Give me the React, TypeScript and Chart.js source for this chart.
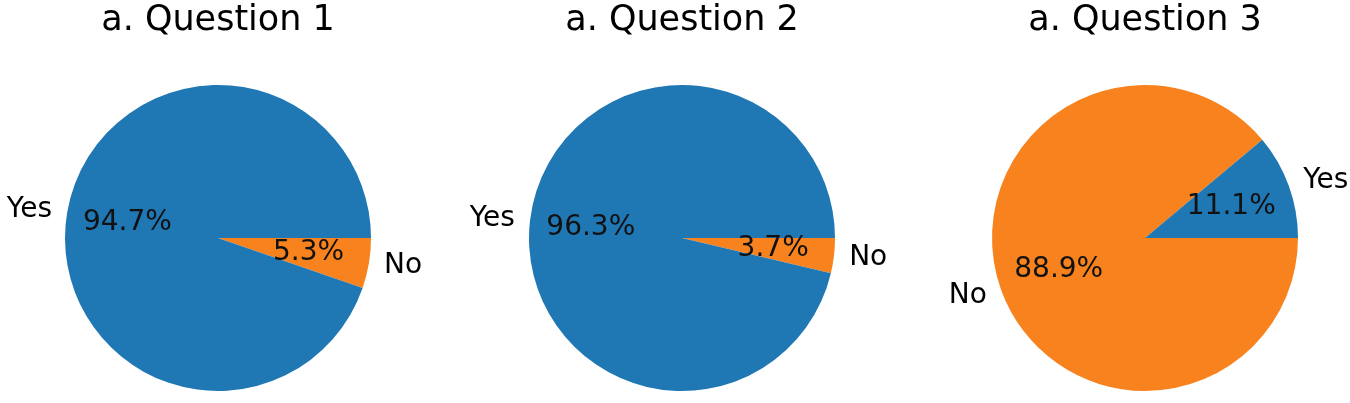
import React, { useEffect, useRef } from "react";
import { Chart, registerables } from "chart.js";

Chart.register(...registerables);

const titles = ["a. Question 1", "a. Question 2", "a. Question 3"];
// drawing order: No first, then Yes (clockwise from 3 o'clock == matplotlib counter-clockwise Yes-first)
const categories = ["No", "Yes"];
const q1Values = [5.3, 94.7];
const q2Values = [3.7, 96.3];
const q3Values = [88.9, 11.1];
const seriesValues = [q1Values, q2Values, q3Values];
const colors = ["#f7821e", "#1f77b4"];
const centersX = [218, 682, 1145];

const FONT = "'DejaVu Sans', sans-serif";
const CANVAS_W = 436;
const CANVAS_H = 403;

const pieLabels = {
  id: "pieLabels",
  afterDatasetsDraw(chart: any) {
    const ctx = chart.ctx;
    const meta = chart.getDatasetMeta(0);
    const data = chart.data.datasets[0].data as number[];
    const labels = chart.data.labels as string[];
    ctx.save();
    meta.data.forEach((arc: any, i: number) => {
      const { x, y, startAngle, endAngle, outerRadius } = arc.getProps(
        ["x", "y", "startAngle", "endAngle", "outerRadius"],
        true
      );
      const mid = (startAngle + endAngle) / 2;
      const c = Math.cos(mid);
      const s = Math.sin(mid);
      // category label at 1.1 r
      ctx.font = `28px ${FONT}`;
      ctx.fillStyle = "#000";
      ctx.textBaseline = "middle";
      ctx.textAlign = c >= 0 ? "left" : "right";
      ctx.fillText(labels[i], x + c * outerRadius * 1.1, y + s * outerRadius * 1.1);
      // percentage at 0.6 r
      ctx.textAlign = "center";
      ctx.fillStyle = "#111";
      ctx.fillText(data[i].toFixed(1) + "%", x + c * outerRadius * 0.6, y + s * outerRadius * 0.6);
    });
    ctx.restore();
  },
};

function PieChart({ idx }: { idx: number }) {
  const ref = useRef<HTMLCanvasElement | null>(null);
  useEffect(() => {
    if (!ref.current) return;
    const chart = new Chart(ref.current, {
      type: "pie",
      data: {
        labels: categories,
        datasets: [
          {
            data: seriesValues[idx],
            backgroundColor: colors,
            borderWidth: 0,
          },
        ],
      },
      options: {
        animation: false,
        responsive: false,
        rotation: 90,
        events: [],
        layout: { padding: { top: 0, bottom: 12, left: 0, right: 0 } },
        plugins: {
          legend: { display: false },
          tooltip: { enabled: false },
          title: {
            display: true,
            text: titles[idx],
            color: "#000",
            font: { family: FONT, size: 35, weight: "normal", lineHeight: 1.0 },
            padding: { top: 3, bottom: 47 },
          },
        },
      },
      plugins: [pieLabels],
    });
    return () => chart.destroy();
  }, [idx]);
  return (
    <div
      style={{
        position: "absolute",
        left: centersX[idx] - CANVAS_W / 2,
        top: 0,
        width: CANVAS_W,
        height: CANVAS_H,
      }}
    >
      <canvas ref={ref} width={CANVAS_W} height={CANVAS_H} />
    </div>
  );
}

export default function App() {
  useEffect(() => {
    document.body.style.margin = "0";
  }, []);
  return (
    <div
      style={{
        position: "absolute",
        left: 0,
        top: 0,
        width: 1350,
        height: 403,
        overflow: "hidden",
        background: "#fff",
      }}
    >
      {[0, 1, 2].map((i) => (
        <PieChart key={i} idx={i} />
      ))}
    </div>
  );
}
